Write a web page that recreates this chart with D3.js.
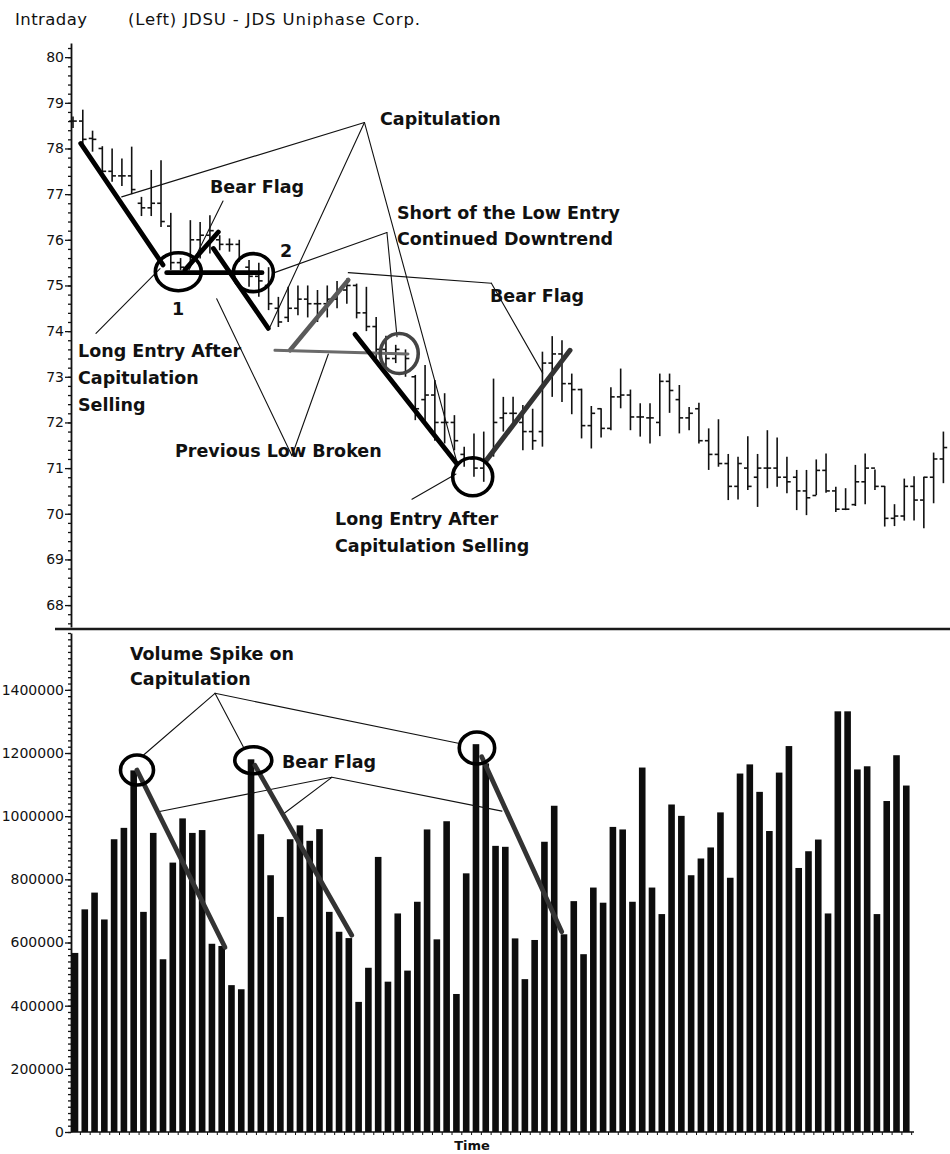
<!DOCTYPE html>
<html><head><meta charset="utf-8">
<script src="https://cdn.jsdelivr.net/npm/d3@7"></script>
<style>body{margin:0;background:#fff}svg{display:block}text{font-family:"DejaVu Sans",sans-serif;fill:#111}</style>
</head><body><svg id="c" width="950" height="1154"></svg>
<script>
// ---------- DATA ----------
const barIndex = d3.range(90);
const high  = [78.70,78.85,78.39,78.05,78.00,77.78,78.04,76.94,77.53,77.74,
               76.59,75.60,76.43,76.39,76.54,76.10,76.03,76.00,75.56,75.50,
               75.40,74.75,74.97,75.00,75.00,74.90,75.00,75.10,75.15,75.04,
               74.97,74.31,73.90,73.70,73.60,73.04,73.26,72.93,72.64,72.16,
               71.47,71.76,71.80,72.96,72.56,72.56,72.38,72.30,73.55,73.89,
               73.80,73.07,72.74,72.36,72.31,72.77,73.18,72.72,72.42,72.42,
               73.07,73.07,72.82,72.34,72.43,71.87,72.07,71.31,71.25,71.70,
               71.31,71.83,71.67,71.25,70.96,70.96,71.19,71.32,70.59,70.56,
               71.07,71.32,70.97,70.61,70.21,70.77,70.82,70.81,71.34,71.80];
const low   = [78.45,78.05,77.93,77.38,77.27,77.18,77.00,76.52,76.52,76.28,
               75.34,75.34,75.45,75.59,75.70,75.77,75.74,75.52,74.97,74.75,
               74.46,74.09,74.20,74.35,74.30,74.20,74.30,74.50,74.60,74.28,
               74.00,73.40,73.20,73.30,73.00,72.05,71.98,71.60,71.54,71.39,
               71.03,70.81,70.70,71.25,71.80,71.90,71.39,71.40,71.47,72.56,
               72.45,72.18,71.65,71.43,71.67,71.83,72.31,71.83,71.69,71.54,
               71.70,72.21,71.76,71.83,71.54,70.96,71.03,70.30,70.31,70.52,
               70.15,70.56,70.59,70.45,70.08,69.97,70.41,70.46,70.04,70.08,
               70.17,70.21,70.52,69.72,69.73,69.85,69.85,69.68,70.23,70.67];
const open  = [78.60,78.60,78.22,78.00,77.50,77.40,77.40,76.80,76.70,76.80,
               76.30,75.50,75.40,76.00,76.10,76.00,75.90,75.90,75.40,75.20,
               75.00,74.50,74.30,74.50,74.70,74.60,74.60,74.70,74.90,75.00,
               74.40,74.10,73.60,73.40,73.50,73.00,72.50,72.60,72.00,72.00,
               71.30,71.20,71.00,71.30,72.10,72.20,72.00,71.80,71.80,73.30,
               73.50,72.85,72.72,71.93,72.30,71.87,72.56,72.60,72.12,72.10,
               72.00,72.90,72.50,72.10,72.30,71.60,71.30,71.10,70.60,71.00,
               70.80,71.00,71.00,70.80,70.80,70.50,70.40,70.95,70.50,70.10,
               70.20,70.70,71.00,70.60,69.90,69.95,70.60,70.30,70.80,71.20];
const close = [78.60,78.20,78.20,77.50,77.40,77.40,77.10,76.70,76.80,76.40,
               75.50,75.40,76.00,76.10,76.20,75.90,75.90,75.60,75.20,75.10,
               74.60,74.20,74.50,74.70,74.60,74.60,74.70,74.90,75.00,74.40,
               74.10,73.60,73.40,73.60,73.40,72.30,72.60,72.00,72.00,71.60,
               71.20,71.00,71.20,72.00,72.20,72.20,71.80,71.60,73.30,73.50,
               72.85,72.72,71.93,72.20,71.87,72.56,72.60,72.12,72.12,72.10,
               72.90,72.70,72.10,72.20,71.60,71.30,71.10,70.60,71.10,70.60,
               71.00,71.00,70.80,70.70,70.50,70.35,70.95,70.50,70.10,70.10,
               70.70,71.00,70.60,69.90,69.95,70.60,70.30,70.80,71.20,71.45];
const volume = [567000,705000,758000,673000,927000,963000,1145000,697000,947000,547000,
                853000,993000,947000,956000,596000,589000,465000,452000,1180000,943000,
                813000,681000,927000,971000,922000,959000,697000,634000,614000,412000,
                520000,871000,476000,692000,511000,729000,958000,610000,984000,437000,
                819000,1228000,1167000,906000,903000,613000,484000,608000,919000,1033000,
                626000,731000,563000,774000,726000,966000,958000,729000,1154000,774000,
                690000,1037000,1001000,813000,866000,901000,1012000,805000,1135000,1164000,
                1077000,953000,1138000,1222000,836000,889000,926000,692000,1332000,1332000,
                1148000,1158000,690000,1048000,1193000,1097000];
const priceTicks  = [68,69,70,71,72,73,74,75,76,77,78,79,80];
const volumeTicks = [0,200000,400000,600000,800000,1000000,1200000,1400000];

// annotation geometry in data units: [bar index, price] / [bar index, volume]
const thickPriceLines = [
  [[0.79,78.11],[9.2,75.45]],
  [[9.58,75.28],[19.33,75.28]],
  [[11.45,75.34],[14.86,76.17]],
  [[14.35,75.81],[19.97,74.06]],
  [[28.83,73.93],[39.23,71.10]]
];
const grayPriceLines = [
  [[22.19,73.58],[28.15,75.12],"#5a5a5a",4.5],
  [[20.65,73.58],[34.25,73.50],"#6a6a6a",3],
  [[42.3,71.18],[50.82,73.58],"#333",5]
];
const priceCircles = [[10.77,75.30,23,19,"#000"],[18.44,75.28,20,19,"#000"],[33.36,73.51,19,20,"#444"],[40.87,70.81,20,19,"#000"]];
const thinPriceLines = [
  [[29.8,78.57],[4.98,76.94]],
  [[29.8,78.57],[20.14,74.09]],
  [[29.8,78.57],[39.3,71.10]],
  [[32.1,76.16],[20.45,75.27]],
  [[32.1,76.16],[33.13,73.88]],
  [[15.34,76.85],[11.86,75.34]],
  [[42.78,75.05],[28.15,75.28]],
  [[42.78,75.05],[48.03,73.08]],
  [[2.35,73.95],[8.9,75.37]],
  [[22.39,71.27],[14.69,74.71]],
  [[22.39,71.27],[26.11,73.50]],
  [[34.66,70.32],[39.16,70.87]]
];
const volThickLines = [
  [[6.54,1146000],[15.54,585000]],
  [[18.6,1161000],[28.5,623000]],
  [[41.79,1188000],[49.97,634000]]
];
const volCircles = [[6.34,1146000,16.5,15],[18.23,1177000,18.5,13.5],[41.1,1216000,17.7,16]];
const volThinLines = [
  [[14.52,1389000],[7.19,1193000]],
  [[14.52,1389000],[17.41,1220000]],
  [[14.52,1389000],[39.4,1231000]],
  [[26.47,1123000],[8.6,1013000]],
  [[26.47,1123000],[21.47,1006000]],
  [[26.47,1123000],[43.86,1016000]]
];

// ---------- SCALES ----------
const svg = d3.select("#c");
const x  = d3.scaleLinear().domain([0,89]).range([73,943.4]);
const yP = d3.scaleLinear().domain([67.52,80.31]).range([627,43]);
const yV = d3.scaleLinear().domain([0,1580000]).range([1132,633]);
const AX = 71;

// ---------- TITLE ----------
svg.append("text").attr("x",15).attr("y",25).attr("font-size",16.5).attr("textLength",72).text("Intraday");
svg.append("text").attr("x",128).attr("y",25).attr("font-size",16.5).attr("textLength",292).text("(Left) JDSU - JDS Uniphase Corp.");

// ---------- AXES ----------
svg.append("g").attr("transform",`translate(${AX},0)`)
  .call(d3.axisLeft(yP).tickValues(priceTicks).tickSize(6).tickPadding(1).tickSizeOuter(0).tickFormat(d3.format("d")));
svg.append("g").attr("transform",`translate(${AX},0)`)
  .call(d3.axisLeft(yP).tickValues(d3.range(338,402).map(d=>d/5)).tickSize(3).tickFormat("")).select(".domain").remove();
svg.append("g").attr("transform",`translate(${AX},0)`)
  .call(d3.axisLeft(yV).tickValues(volumeTicks).tickSize(6).tickPadding(1).tickSizeOuter(0).tickFormat(d3.format("d")));
svg.append("g").attr("transform",`translate(${AX},0)`)
  .call(d3.axisLeft(yV).tickValues(d3.range(0,1580001,20000)).tickSize(3).tickFormat("")).select(".domain").remove();
svg.selectAll(".tick text").attr("font-size",14).attr("font-family","DejaVu Sans").attr("fill","#111");
svg.selectAll(".domain").attr("stroke","#111").attr("stroke-width",1.8);
svg.selectAll(".tick line").attr("stroke","#111").attr("stroke-width",1.3);

// separator & baseline
svg.append("line").attr("x1",55).attr("x2",950).attr("y1",629).attr("y2",629).attr("stroke","#1a1a1a").attr("stroke-width",2.6);
// bottom time axis, aligned to the volume bars
svg.append("g").attr("transform",`translate(2,${yV(0)})`)
  .call(d3.axisBottom(x).tickValues(d3.range(0,86).map(i=>i+0.5)).tickSize(3).tickFormat("").tickSizeOuter(0))
  .call(g=>g.select(".domain").attr("d",`M${AX-2},0H912`).attr("stroke","#111").attr("stroke-width",1.5))
  .call(g=>g.selectAll(".tick line").attr("stroke","#111").attr("stroke-width",1));
svg.append("text").attr("x",472).attr("y",1150).attr("text-anchor","middle").attr("font-size",13).attr("font-weight","bold").text("Time");

// ---------- PRICE BARS ----------
const pb = svg.append("g").attr("stroke","#111").attr("stroke-width",1.6);
barIndex.forEach(i=>{
  pb.append("line").attr("x1",x(i)).attr("x2",x(i)).attr("y1",yP(high[i])).attr("y2",yP(low[i]));
  pb.append("line").attr("x1",x(i)-3.8).attr("x2",x(i)).attr("y1",yP(open[i])).attr("y2",yP(open[i]));
  pb.append("line").attr("x1",x(i)).attr("x2",x(i)+3.8).attr("y1",yP(close[i])).attr("y2",yP(close[i]));
});

// ---------- VOLUME BARS ----------
svg.append("g").selectAll("rect").data(volume).join("rect")
  .attr("x",(d,i)=>x(i)+2-3.3).attr("width",6.6)
  .attr("y",d=>yV(d)).attr("height",d=>yV(0)-yV(d)).attr("fill","#0d0d0d");

// ---------- ANNOTATIONS ----------
const line = (g,pts,ys,col,w)=>g.append("line").attr("x1",x(pts[0][0])).attr("y1",ys(pts[0][1]))
   .attr("x2",x(pts[1][0])).attr("y2",ys(pts[1][1])).attr("stroke",col).attr("stroke-width",w).attr("stroke-linecap","round");
const an = svg.append("g");
thinPriceLines.forEach(p=>line(an,p,yP,"#111",1.1));
volThinLines.forEach(p=>line(an,p,yV,"#111",1.1));
grayPriceLines.forEach(p=>line(an,p,yP,p[2],p[3]));
thickPriceLines.forEach(p=>line(an,p,yP,"#000",4.8));
volThickLines.forEach(p=>line(an,p,yV,"#333",4.8));
priceCircles.forEach(c=>an.append("ellipse").attr("cx",x(c[0])).attr("cy",yP(c[1])).attr("rx",c[2]).attr("ry",c[3])
  .attr("fill","none").attr("stroke",c[4]).attr("stroke-width",3.6));
volCircles.forEach(c=>an.append("ellipse").attr("cx",x(c[0])+2).attr("cy",yV(c[1])).attr("rx",c[2]).attr("ry",c[3])
  .attr("fill","none").attr("stroke","#000").attr("stroke-width",3.6));

const labels = [
  ["Capitulation",380,125],["Bear Flag",210,193],["Short of the Low Entry",397,219],["Continued Downtrend",397,245],
  ["Bear Flag",490,302],["1",172,315],["2",280,257],["Long Entry After",78,357],["Capitulation",78,384],["Selling",78,411],
  ["Previous Low Broken",175,457],["Long Entry After",335,525],["Capitulation Selling",335,552],
  ["Volume Spike on",130,660],["Capitulation",130,685],["Bear Flag",282,768]
];
svg.append("g").selectAll("text").data(labels).join("text")
  .attr("x",d=>d[1]).attr("y",d=>d[2]).attr("font-size",17.5).attr("font-weight","bold").text(d=>d[0]);
</script></body></html>
